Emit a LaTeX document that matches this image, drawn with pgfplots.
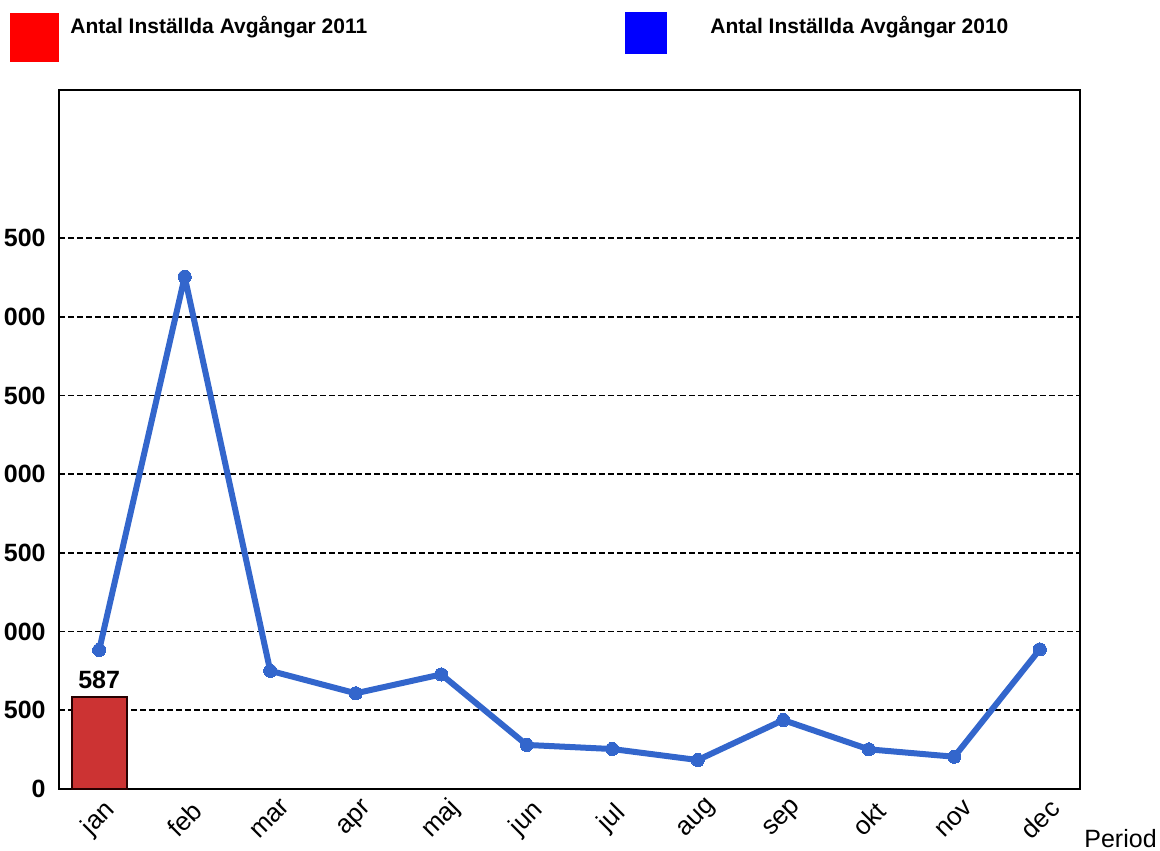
\documentclass[border=0pt]{standalone}
\usepackage{fontspec}
\setmainfont{Liberation Sans}
\usepackage{pgfplots}
\pgfplotsset{compat=1.18}

\definecolor{barred}{RGB}{204,51,51}
\definecolor{linblue}{RGB}{51,102,204}

\begin{document}
\begin{tikzpicture}
% legend (drawn by hand, the layout is not pgfplots' own)
\fill[red] (5pt,-6.5pt) rectangle (29.5pt,-31pt);
\node[anchor=base west, inner sep=0pt, font=\fontsize{10.5}{12}\selectfont\bfseries] at (35pt,-16.7pt) {Antal Inställda Avgångar 2011};
\fill[blue] (312.5pt,-6pt) rectangle (333.5pt,-26.8pt);
\node[anchor=base west, inner sep=0pt, font=\fontsize{10.5}{12}\selectfont\bfseries] at (355pt,-16.7pt) {Antal Inställda Avgångar 2010};

\begin{axis}[
  at={(29.5pt,-394.5pt)}, anchor=south west,
  scale only axis, width=510.5pt, height=349.5pt,
  xmin=-0.47, xmax=11.47, ymin=0, ymax=4440,
  axis line style={line width=1pt},
  major tick length=0pt,
  xtick={0,...,11},
  xticklabels={jan,feb,mar,apr,maj,jun,jul,aug,sep,okt,nov,dec},
  xticklabel style={yshift=-15pt, rotate=45, anchor=center, font=\fontsize{13}{15}\selectfont},
  ytick={0,500,...,3500},
  yticklabel style={inner sep=0pt, xshift=-6.5pt, font=\fontsize{12.5}{15}\selectfont\bfseries},
  /pgf/number format/assume math mode=true,
  /pgf/number format/1000 sep={\ },
  ymajorgrids,
  grid style={black, line width=0.9pt, dash pattern=on 3pt off 1.5pt},
  clip=false,
]
\addplot[ybar, bar width=27.5pt, fill=barred, draw=black!85!red, line width=1pt,
  nodes near coords, every node near coord/.append style={font=\fontsize{12.5}{15}\selectfont\bfseries}]
  coordinates {(0,587)};
\addplot[linblue, line width=3pt, line join=round, mark=*, mark size=3.3pt, mark options={fill=linblue, draw=linblue, line width=0pt}]
  coordinates {(0,883) (1,3254) (2,751) (3,608) (4,728) (5,280) (6,254) (7,184) (8,438) (9,252) (10,205) (11,887)};
\end{axis}

\node[anchor=base west, inner sep=0pt, font=\fontsize{12.5}{15}\selectfont] at (542pt,-423.5pt) {Period};

\pgfresetboundingbox
\useasboundingbox (0pt,0pt) rectangle (580pt,-425pt);
\end{tikzpicture}
\end{document}
